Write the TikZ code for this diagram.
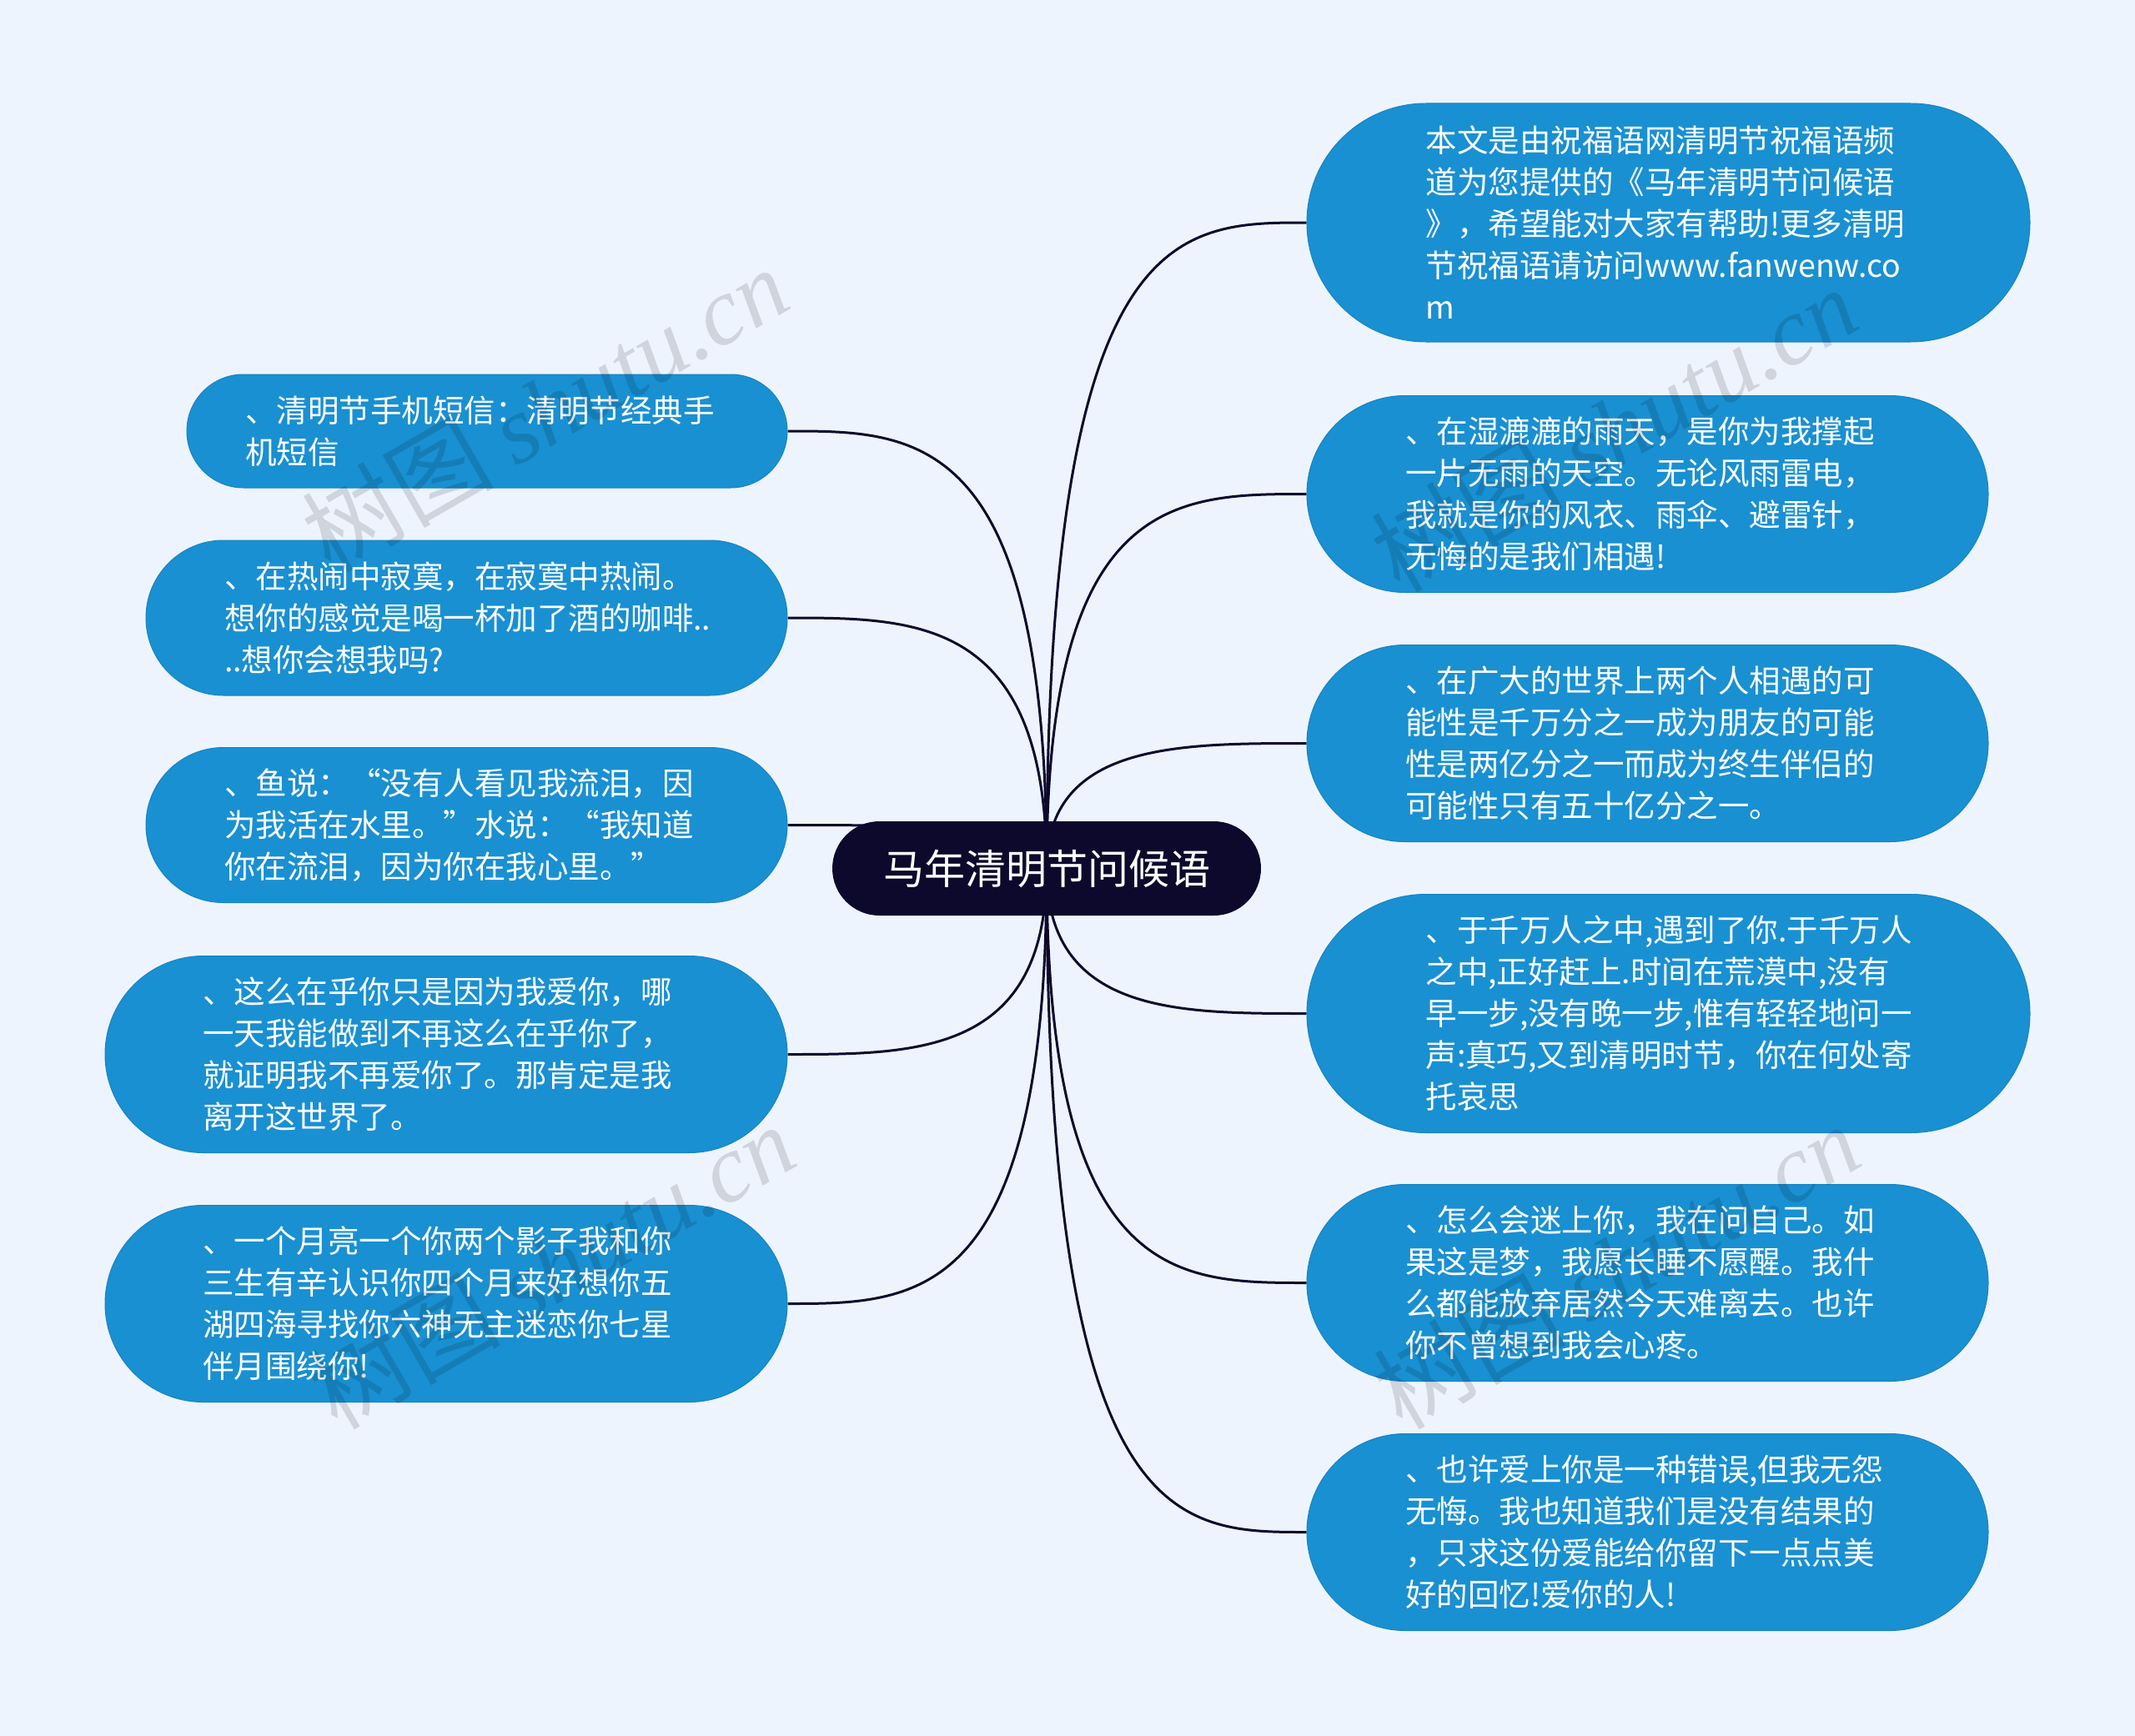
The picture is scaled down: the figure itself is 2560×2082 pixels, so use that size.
\documentclass[tikz,border=0pt]{standalone}
\usepackage{fontspec}
\setmainfont{Noto Sans CJK SC}
\newfontfamily\cjk{Noto Sans CJK SC}
\newfontfamily\wmlatin{Liberation Serif}
\usetikzlibrary{calc}
\definecolor{bgcol}{RGB}{238,244,254}
\definecolor{nodeblue}{RGB}{25,144,210}
\definecolor{navy}{RGB}{12,9,44}
\pgfdeclarelayer{back}
\pgfdeclarelayer{front}
\pgfsetlayers{back,main,front}
\begin{document}
\begin{tikzpicture}[x=1pt,y=-1pt,
  leaf/.style={fill=nodeblue, draw=nodeblue!92!black, line width=1pt, text=white,
    font=\cjk\fontsize{37.5}{50}\selectfont, align=left, inner sep=0pt},
  rootnode/.style={fill=navy, text=white, font=\cjk\fontsize{49}{60}\selectfont,
    inner sep=0pt, minimum width=514pt, minimum height=113pt, rounded corners=56.5pt},
  conn/.style={draw=navy, line width=3pt},
  wm/.style={rotate=30, text=black, opacity=0.13, font=\fontsize{115}{120}\selectfont}]
\useasboundingbox (0,0) rectangle (2560,2082);
\begin{pgfonlayer}{back}
\fill[bgcol] (0,0) rectangle (2560,2082);
\end{pgfonlayer}

\node[rootnode] (c) at (1255,1041.5) {马年清明节问候语};

% right side
\node[leaf, minimum width=867pt, minimum height=286pt, rounded corners=143pt, text width=582pt] (R1) at (2000.5,267)
  {本文是由祝福语网清明节祝福语频\\道为您提供的《马年清明节问候语\\》，希望能对大家有帮助!更多清明\\节祝福语请访问www.fanwenw.co\\m};
\node[leaf, minimum width=817pt, minimum height=236pt, rounded corners=118pt, text width=581pt] (R2) at (1975.5,592.5)
  {、在湿漉漉的雨天，是你为我撑起\\一片无雨的天空。无论风雨雷电，\\我就是你的风衣、雨伞、避雷针，\\无悔的是我们相遇!};
\node[leaf, minimum width=817pt, minimum height=236pt, rounded corners=118pt, text width=581pt] (R3) at (1975.5,891.5)
  {、在广大的世界上两个人相遇的可\\能性是千万分之一成为朋友的可能\\性是两亿分之一而成为终生伴侣的\\可能性只有五十亿分之一。};
\node[leaf, minimum width=867pt, minimum height=286pt, rounded corners=143pt, text width=582pt] (R4) at (2000.5,1215.5)
  {、于千万人之中,遇到了你.于千万人\\之中,正好赶上.时间在荒漠中,没有\\早一步,没有晚一步,惟有轻轻地问一\\声:真巧,又到清明时节，你在何处寄\\托哀思};
\node[leaf, minimum width=817pt, minimum height=236pt, rounded corners=118pt, text width=581pt] (R5) at (1975.5,1538.5)
  {、怎么会迷上你，我在问自己。如\\果这是梦，我愿长睡不愿醒。我什\\么都能放弃居然今天难离去。也许\\你不曾想到我会心疼。};
\node[leaf, minimum width=817pt, minimum height=236pt, rounded corners=118pt, text width=581pt] (R6) at (1975.5,1837.5)
  {、也许爱上你是一种错误,但我无怨\\无悔。我也知道我们是没有结果的\\，只求这份爱能给你留下一点点美\\好的回忆!爱你的人!};

% left side
\node[leaf, minimum width=720pt, minimum height=136pt, rounded corners=68pt, text width=580pt] (L1) at (584,517)
  {、清明节手机短信：清明节经典手\\机短信};
\node[leaf, minimum width=769pt, minimum height=186pt, rounded corners=93pt, text width=581pt] (L2) at (559.5,741)
  {、在热闹中寂寞，在寂寞中热闹。\\想你的感觉是喝一杯加了酒的咖啡..\\..想你会想我吗?};
\node[leaf, minimum width=769pt, minimum height=186pt, rounded corners=93pt, text width=581pt] (L3) at (559.5,989.5)
  {、鱼说：“没有人看见我流泪，因\\为我活在水里。”水说：“我知道\\你在流泪，因为你在我心里。”};
\node[leaf, minimum width=818pt, minimum height=236pt, rounded corners=118pt, text width=584pt] (L4) at (535,1264.5)
  {、这么在乎你只是因为我爱你，哪\\一天我能做到不再这么在乎你了，\\就证明我不再爱你了。那肯定是我\\离开这世界了。};
\node[leaf, minimum width=818pt, minimum height=236pt, rounded corners=118pt, text width=584pt] (L5) at (535,1563.5)
  {、一个月亮一个你两个影子我和你\\三生有辛认识你四个月来好想你五\\湖四海寻找你六神无主迷恋你七星\\伴月围绕你!};

\begin{pgfonlayer}{back}
\foreach \n in {R1,R2,R3,R4,R5,R6}{
  \draw[conn] (c.center) .. controls (c.center |- \n.west) and ($(c.center |- \n.west)!0.5!(\n.west)$) .. (\n.west);
}
\foreach \n in {L1,L2,L3,L4,L5}{
  \draw[conn] (c.center) .. controls (c.center |- \n.east) and ($(c.center |- \n.east)!0.5!(\n.east)$) .. (\n.east);
}
\end{pgfonlayer}

\begin{pgfonlayer}{front}
\node[wm] (w1) at (653,490) {\cjk 树图 {\wmlatin\itshape shutu.cn}};
\node[wm] (w2) at (1935,514) {\cjk 树图 {\wmlatin\itshape shutu.cn}};
\node[wm] (w3) at (661,1518) {\cjk 树图 {\wmlatin\itshape shutu.cn}};
\node[wm] (w4) at (1938,1518) {\cjk 树图 {\wmlatin\itshape shutu.cn}};
\end{pgfonlayer}
\end{tikzpicture}
\end{document}
